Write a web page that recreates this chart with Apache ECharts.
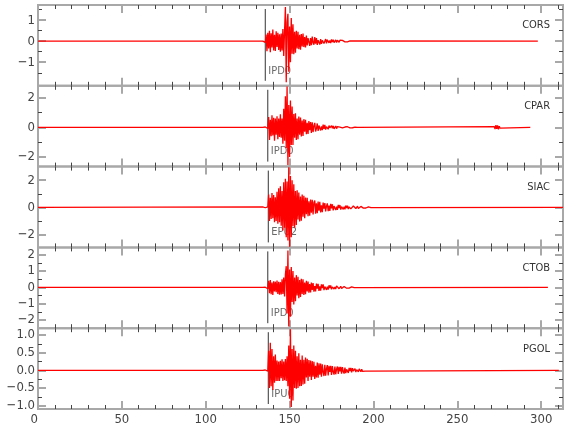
<!DOCTYPE html>
<html><head><meta charset="utf-8">
<script src="https://cdn.jsdelivr.net/npm/echarts@6/dist/echarts.min.js"></script>
<style>html,body{margin:0;padding:0;background:#fff}#c{width:580px;height:440px}</style>
</head><body><div id="c"></div>
<script>
const stations = ['CORS', 'CPAR', 'SIAC', 'CTOB', 'PGOL'];
const phases = ['IPD0', 'IPD0', 'EPU2', 'IPD0', 'IPU0'];
const phaseTimes = [135.5, 137.0, 137.3, 137.0, 137.3];
const traceStart = 134;
const sampleStep = 0.5;
const traceEnds = [298, 293.5, 313, 304, 310.5];
const yMins = [-2.12, -2.65, -2.95, -2.5, -1.09];
const yMaxs = [1.72, 2.8, 3.0, 2.45, 1.19];
const yLabelTicks = [[-1, 0, 1], [-2, 0, 2], [-2, 0, 2], [-2, -1, 0, 1, 2], [-1, -0.5, 0, 0.5, 1]];
const yMinorTicks = [[-1.5, -0.5, 0.5, 1.5], [-1, 1], [-1, 1], [-1.5, -0.5, 0.5, 1.5], [-0.75, -0.25, 0.25, 0.75]];
const yDecimals = [0, 0, 0, 0, 1];
const xMin = 0, xMax = 313;
const xLabelTicks = [0, 50, 100, 150, 200, 250, 300];
const xMinorTicks = [10, 20, 30, 40, 60, 70, 80, 90, 110, 120, 130, 140, 160, 170, 180, 190, 210, 220, 230, 240, 260, 270, 280, 290, 310];

// samples every 0.5 s from t = 134 s
const cors = [
  0, -0.01, 0.01, -0.06, 0.32, -0.48, 0.4, -0.35, 0.5, -0.52,
  0.38, -0.3, 0.55, -0.44, 0.3, -0.46, 0.47, -0.28, 0.4, -0.42,
  0.33, -0.5, 0.36, -0.44, 0.58, -0.7, 0.5, 1.62, -1.95, 0.9,
  1.3, -1.45, 0.7, -1.0, 1.1, -0.6, 0.8, -0.62, 0.45, -0.55,
  0.5, -0.35, 0.45, -0.38, 0.3, -0.4, 0.34, -0.25, 0.36, -0.28,
  0.2, -0.3, 0.27, -0.2, 0.15, 0.24, -0.22, 0.15, -0.19, 0.22,
  -0.06, -0.17, 0.19, -0.12, 0.15, -0.18, 0.05, 0.14, -0.16, 0.1,
  -0.13, 0.04, 0.12, -0.11, -0.05, 0.1, -0.1, 0.07, 0.09, -0.08,
  0.03, -0.09, 0.08, -0.04, 0.07, -0.07, 0.02, 0.06, -0.06, 0.05,
  -0.02, -0.05, 0.05, -0.04, 0.02, 0.04, -0.04, 0.03, -0.03, 0.01,
  0.03, -0.03, 0.02, -0.02, 0.01, 0.02, -0.02, 0.01, -0.01, 0
];
const cpar = [
  0, 0.01, -0.01, 0.02, -0.01, 0.02, -0.08, 0.7, -0.85, 0.5,
  -0.6, 0.82, -0.55, 0.65, -0.9, 0.6, -0.5, 0.75, -0.8, 0.6,
  -0.65, 0.88, -0.7, 0.6, -1.1, 1.25, -0.9, 2.1, -1.4, 2.75,
  -2.55, 1.5, -2.0, 1.8, -1.2, 1.4, -1.2, 0.9, -0.7, 0.95,
  -0.85, 0.6, -0.8, 0.72, -0.5, 0.66, -0.62, 0.45, -0.58, 0.55,
  -0.3, 0.5, -0.46, 0.3, -0.44, 0.42, -0.2, 0.36, -0.38, 0.34,
  -0.32, 0.1, 0.3, -0.28, -0.08, 0.26, -0.25, 0.12, 0.22, -0.21,
  0.06, -0.19, 0.18, -0.1, 0.16, -0.15, 0.05, 0.14, -0.13, 0.12,
  -0.04, -0.12, 0.11, -0.07, 0.1, -0.1, 0.03, 0.09, -0.09, 0.05,
  0.08, -0.08, 0.02, -0.07, 0.07, -0.03, 0.06, -0.06, 0.02, 0.05,
  -0.05, 0.04, -0.02, 0.04, -0.04, 0.01, 0.03, -0.03, 0.02, -0.02,
  0.01, -0.01, 0.01, -0.01, 0
];
const cparLateStart = 272;
const cparLate = [0.05, -0.12, 0.15, -0.1, 0.13, -0.14, 0.08, -0.06, 0.04, 0];
const siac = [
  0.03, -0.04, 0.05, -0.03, 0.04, -0.05, 0.03, 0.95, -1.0, 0.7,
  -0.85, 1.05, -0.8, 0.9, -1.1, 0.75, -1.0, 1.15, -1.2, 1.4,
  -1.1, 1.55, -1.35, 1.2, -1.7, 1.85, -1.5, 2.1, -2.2, 1.9,
  -2.45, 2.95, -2.9, 2.3, -2.2, 2.0, -1.4, 1.7, -1.5, 1.2,
  -1.3, 1.25, -0.9, 1.1, -1.05, 0.8, -0.98, 0.95, -0.7, 0.85,
  -0.8, 0.72, -0.5, 0.7, -0.66, 0.45, -0.62, 0.58, -0.4, 0.55,
  -0.52, 0.35, 0.5, -0.47, 0.3, -0.44, 0.42, -0.25, 0.4, -0.38,
  0.15, -0.36, 0.35, -0.1, 0.32, -0.3, 0.08, 0.29, -0.28, 0.12,
  -0.26, 0.25, -0.07, 0.23, -0.22, 0.09, 0.21, -0.2, 0.05, -0.19,
  0.18, -0.06, 0.17, -0.16, 0.05, 0.15, -0.15, 0.04, -0.14, 0.13,
  -0.05, 0.12, -0.12, 0.04, 0.11, -0.11, 0.03, -0.1, 0.1, -0.03,
  0.09, -0.09, 0.02, 0.08, -0.08, 0.03, -0.07, 0.07, -0.02, 0.06,
  -0.06, 0.02, 0.05, -0.05, 0.01, -0.04, 0.04, -0.03, 0.02, -0.02
];
const ctob = [
  0, 0.01, -0.01, 0.01, -0.01, 0.02, -0.08, 0.4, -0.35, 0.45,
  -0.42, 0.3, -0.47, 0.38, -0.25, 0.35, -0.3, 0.42, -0.4, 0.35,
  -0.45, 0.32, -0.44, 0.5, -0.4, 0.6, -0.55, 0.8, 1.3, -1.6,
  2.26, -2.4, 1.1, -1.8, 1.25, -0.9, 1.0, -1.05, 0.6, -0.85,
  0.75, -0.5, 0.65, -0.66, 0.45, -0.58, 0.52, -0.4, 0.5, -0.46,
  0.3, -0.42, 0.4, -0.25, 0.36, -0.33, 0.2, -0.31, 0.29, -0.15,
  0.27, -0.26, 0.08, -0.24, 0.23, -0.07, 0.22, -0.21, 0.06, -0.2,
  0.19, -0.05, 0.18, -0.17, 0.05, 0.16, -0.15, 0.04, -0.14, 0.13,
  -0.04, 0.12, -0.12, 0.03, 0.11, -0.1, 0.03, -0.1, 0.09, -0.02,
  0.08, -0.08, 0.02, 0.07, -0.07, 0.02, -0.06, 0.06, -0.01, 0.05,
  -0.05, 0.01, 0.04, -0.04, 0.01, -0.03, 0.03, -0.01, 0.02, -0.02,
  0.01, 0
];
const pgol = [
  0, 0.01, -0.01, 0.01, -0.01, 0.02, -0.02, 0.55, -0.5, 0.78,
  -0.45, 0.6, -0.55, 0.4, -0.35, 0.45, -0.3, 0.28, -0.3, 0.25,
  -0.3, 0.27, -0.22, 0.31, -0.3, 0.25, -0.28, 0.32, -0.3, 0.4,
  -0.45, 0.7, -0.8, 1.16, -1.03, 0.6, -0.85, 0.7, -0.5, 0.55,
  -0.52, 0.4, -0.5, 0.48, -0.45, 0.3, -0.44, 0.42, -0.4, 0.3,
  -0.38, 0.36, -0.2, 0.33, -0.3, 0.29, -0.18, 0.28, -0.27, 0.26,
  -0.18, 0.24, -0.24, 0.13, -0.2, 0.22, -0.21, 0.2, -0.12, 0.19,
  -0.18, 0.17, -0.05, -0.16, 0.16, -0.15, 0.05, 0.15, -0.14, 0.13,
  -0.04, 0.13, -0.13, 0.12, -0.04, -0.12, 0.11, -0.11, 0.03, 0.11,
  -0.1, 0.1, -0.03, 0.1, -0.09, 0.09, -0.03, -0.09, 0.08, -0.08,
  0.03, 0.08, -0.07, 0.07, -0.02, 0.07, -0.06, 0.06, -0.02, -0.06,
  0.05, -0.05, 0.02, 0.05, -0.04, 0.04, -0.01, -0.04, 0.03, -0.03,
  0.01, 0.02, -0.02, 0.01, 0
];
const traces = [cors, cpar, siac, ctob, pgol];
const lateBursts = [null, {start: cparLateStart, values: cparLate}, null, null, null];

const FONT = "'Liberation Sans Narrow','DejaVu Sans Condensed','Noto Sans',sans-serif";
const GRID_LEFT = 38, GRID_RIGHT = 17, GRID_TOP = 5, PANEL_H = 80.8;
const MAJOR_TICK = {color: '#a8a8a8', width: 2};
const MINOR_TICK = {color: '#444', width: 1};

function fmtY(dec) {
  return function (v) {
    const s = Math.abs(v).toFixed(dec);
    return (v < 0 ? '\u2212' : '') + s;
  };
}

const grids = [], xAxes = [], yAxes = [], series = [], titles = [];
stations.forEach(function (name, i) {
  const top = GRID_TOP + PANEL_H * i;
  grids.push({left: GRID_LEFT, right: GRID_RIGHT, top: top, height: PANEL_H,
    show: true, borderColor: '#a8a8a8', borderWidth: 2, backgroundColor: 'transparent'});
  const xBase = {gridIndex: i, type: 'value', min: xMin, max: xMax,
    axisLine: {show: false, onZero: false}, splitLine: {show: false}};
  ['bottom', 'top'].forEach(function (pos) {
    xAxes.push(Object.assign({}, xBase, {position: pos,
      axisTick: {inside: true, length: 8, customValues: xLabelTicks, lineStyle: MAJOR_TICK},
      axisLabel: {show: pos === 'bottom' && i === stations.length - 1, customValues: xLabelTicks,
        margin: 4, color: '#444', fontSize: 13, fontFamily: FONT, alignMinLabel: 'right'}}));
    xAxes.push(Object.assign({}, xBase, {position: pos,
      axisTick: {inside: true, length: 4, customValues: xMinorTicks, lineStyle: MINOR_TICK},
      axisLabel: {show: false}}));
  });
  const yBase = {gridIndex: i, type: 'value', min: yMins[i], max: yMaxs[i],
    axisLine: {show: false, onZero: false}, splitLine: {show: false}};
  ['left', 'right'].forEach(function (pos) {
    yAxes.push(Object.assign({}, yBase, {position: pos,
      axisTick: {inside: true, length: 8, customValues: yLabelTicks[i], lineStyle: MAJOR_TICK},
      axisLabel: {show: pos === 'left', customValues: yLabelTicks[i], margin: 3,
        color: '#444', fontSize: 13, fontFamily: FONT, formatter: fmtY(yDecimals[i])}}));
    yAxes.push(Object.assign({}, yBase, {position: pos,
      axisTick: {inside: true, length: 4, customValues: yMinorTicks[i], lineStyle: MINOR_TICK},
      axisLabel: {show: false}}));
  });
  titles.push({text: name, right: 30, top: top + 15, padding: 0,
    textStyle: {fontSize: 11, fontWeight: 'normal', color: '#333', fontFamily: FONT}});

  const span = yMaxs[i] - yMins[i];
  const yTop = yMaxs[i] - span * 4 / PANEL_H;
  const yBot = yMins[i] + span * 5 / PANEL_H;
  const yLab = yMins[i] + span * 15 / PANEL_H;
  const xi = 4 * i, yi = 4 * i;
  series.push({type: 'line', xAxisIndex: xi, yAxisIndex: yi, z: 1, silent: true,
    data: [[phaseTimes[i], yTop], [phaseTimes[i], yBot]], symbol: 'none',
    lineStyle: {color: '#333', width: 1}, animation: false});
  series.push({type: 'scatter', xAxisIndex: xi, yAxisIndex: yi, z: 1, silent: true,
    data: [[phaseTimes[i], yLab]], symbolSize: 0, animation: false,
    label: {show: true, position: 'right', distance: 3, formatter: phases[i],
      color: '#444', fontSize: 11, fontFamily: FONT}});

  const pts = [[xMin, 0]];
  traces[i].forEach(function (v, k) { pts.push([traceStart + k * sampleStep, v]); });
  const b = lateBursts[i];
  if (b) b.values.forEach(function (v, k) { pts.push([b.start + k * sampleStep, v]); });
  pts.push([traceEnds[i], 0]);
  series.push({type: 'line', xAxisIndex: xi, yAxisIndex: yi, z: 3, silent: true,
    data: pts, showSymbol: false, symbol: 'none', animation: false,
    lineStyle: {color: '#ff0000', width: 1.3}});
});

const chart = echarts.init(document.getElementById('c'), null, {renderer: 'canvas'});
chart.setOption({animation: false, title: titles, grid: grids, xAxis: xAxes, yAxis: yAxes, series: series});
</script>
</body></html>
